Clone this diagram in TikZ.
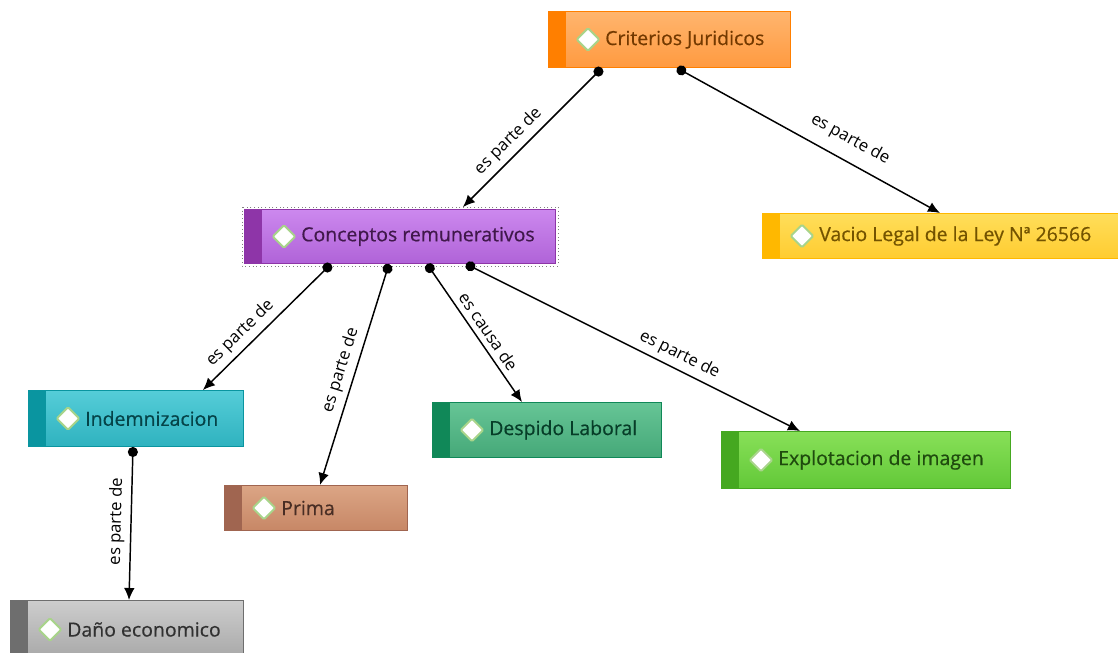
\documentclass[tikz,border=0pt]{standalone}
\usepackage{fontspec}
\setmainfont{Open Sans}
\newfontfamily\boxfont[FakeBold=0.5]{Open Sans}
\usetikzlibrary{calc,arrows.meta,shapes.geometric}
\definecolor{diamB}{HTML}{A8D48A}
\definecolor{orT}{HTML}{FFB56E}\definecolor{orB}{HTML}{FF9A40}\definecolor{orS}{HTML}{FF7F00}
\definecolor{puT}{HTML}{CC88EE}\definecolor{puB}{HTML}{B063D8}\definecolor{puS}{HTML}{8E35A8}
\definecolor{yeT}{HTML}{FFDE5A}\definecolor{yeB}{HTML}{FFCC30}\definecolor{yeS}{HTML}{FFB800}
\definecolor{teT}{HTML}{55CDD8}\definecolor{teB}{HTML}{2FB2BF}\definecolor{teS}{HTML}{0A95A0}
\definecolor{brT}{HTML}{DBA585}\definecolor{brB}{HTML}{C78766}\definecolor{brS}{HTML}{A06550}
\definecolor{grT}{HTML}{66C596}\definecolor{grB}{HTML}{45A878}\definecolor{grS}{HTML}{108858}
\definecolor{liT}{HTML}{88E058}\definecolor{liB}{HTML}{62C838}\definecolor{liS}{HTML}{45A820}
\definecolor{gyT}{HTML}{CDCDCD}\definecolor{gyB}{HTML}{A8A8A8}\definecolor{gyS}{HTML}{6E6E6E}
\tikzset{
  cbox/.style={rectangle, inner sep=0pt, anchor=north west, line width=0.75pt},
  cdiam/.style={diamond, aspect=1, inner sep=0pt, minimum size=17.5pt, fill=white, draw=diamB, line width=1.4pt, rounded corners=1pt},
  ctext/.style={anchor=west, font=\boxfont\fontsize{14.6}{16}\selectfont, inner sep=0pt},
  link/.style={line width=1.1pt, {Circle[length=7.5pt,width=7.5pt]}-{Latex[length=9pt,width=8pt]}},
  lab/.style={sloped, above, font=\fontsize{12.5}{14}\selectfont, pos=0.6, inner sep=4pt},
}
\newcommand\cmapbox[9]{%
  \node[cbox, top color=#6, bottom color=#7, draw=#8, minimum width={(#4-#2)*0.75pt}, minimum height={(#5-#3)*0.75pt}] (#1) at (#2,#3) {};
  \fill[#8] (#1.north west) rectangle ($(#1.south west)+(18,0)$);
  \node[cdiam] (#1d) at ($(#1.west)+(40,0)$) {};
  \node[ctext, text=#8!45!black] (#1t) at ($(#1.west)+(57,0)$) {#9};
}
\begin{document}
\begin{tikzpicture}[x=0.75pt,y=-0.75pt]
\useasboundingbox (0,0) rectangle (1118,653);
\clip (0,0) rectangle (1118,653);
\fill[white] (0,0) rectangle (1118,653);
\cmapbox{crit}{548}{11}{790}{67}{orT}{orB}{orS}{Criterios Juridicos}
\cmapbox{conc}{244}{209}{555}{263}{puT}{puB}{puS}{Conceptos remunerativos}
\draw[dotted, gray, line width=0.75pt] ($(conc.north west)+(-2,-2)$) rectangle ($(conc.south east)+(2,2)$);
\cmapbox{vac}{762}{213}{1122}{258}{yeT}{yeB}{yeS}{Vacio Legal de la Ley Nª 26566}
\cmapbox{ind}{28}{390}{243}{446}{teT}{teB}{teS}{Indemnizacion}
\cmapbox{pri}{224}{485}{407}{530}{brT}{brB}{brS}{Prima}
\cmapbox{des}{432}{402}{661}{457}{grT}{grB}{grS}{Despido Laboral}
\cmapbox{exp}{721}{431}{1010}{488}{liT}{liB}{liS}{Explotacion de imagen}
\cmapbox{dan}{10}{600}{243}{658}{gyT}{gyB}{gyS}{Daño economico}

\draw[link] ($(crit.south west)+(54,0)$) -- node[lab] {es parte de} ($(conc.north west)+(219,-2)$);
\draw[link] ($(crit.south west)+(129,0)$) -- node[lab, pos=0.62, yshift=5pt] {es parte de} ($(vac.north west)+(178,0)$);
\draw[link] ($(conc.south west)+(87,0)$) -- node[lab, pos=0.63] {es parte de} ($(ind.north west)+(175,0)$);
\draw[link] ($(conc.south west)+(145,0)$) -- node[lab, pos=0.5] {es parte de} ($(pri.north west)+(96,0)$);
\draw[link] ($(conc.south west)+(183,0)$) -- node[lab, pos=0.54] {es causa de} ($(des.north west)+(90,0)$);
\draw[link] ($(conc.south west)+(222,0)$) -- node[lab, pos=0.62] {es parte de} ($(exp.north west)+(79,0)$);
\draw[link] ($(ind.south west)+(105,0)$) -- node[lab, pos=0.49] {es parte de} ($(dan.north west)+(119,0)$);
\end{tikzpicture}
\end{document}
